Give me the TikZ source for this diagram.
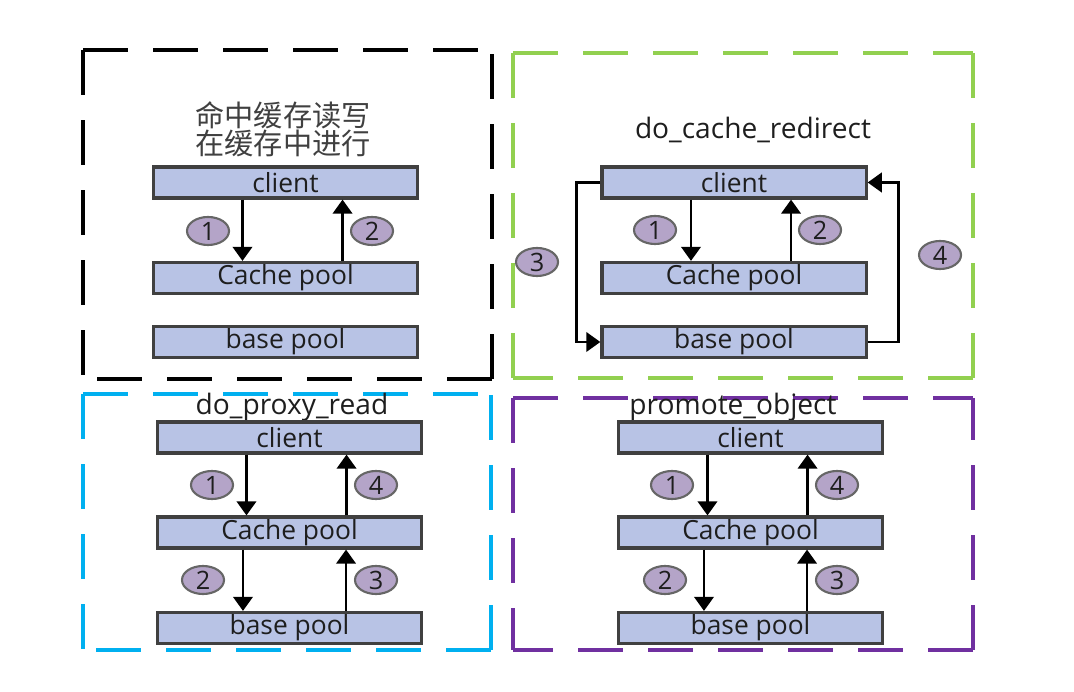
\documentclass[tikz,border=0pt]{standalone}
\usepackage{fontspec}
\setmainfont{Open Sans}
\newfontfamily\cjk{Noto Sans CJK SC}
\usetikzlibrary{arrows.meta}
\usetikzlibrary{shapes.geometric}
\usepackage{xcolor}
\definecolor{poolfill}{RGB}{184,195,229}
\definecolor{stepfill}{RGB}{180,164,200}
\definecolor{framegreen}{RGB}{146,208,80}
\definecolor{frameblue}{RGB}{0,176,240}
\definecolor{framepurple}{RGB}{112,48,160}
\definecolor{txt}{RGB}{30,30,30}

\begin{document}
\begin{tikzpicture}[x=.01cm, y=-.01cm,
  pool/.style={draw=black!75, line width=.9pt, fill=poolfill, minimum width=2.64cm, minimum height=.31cm, inner sep=0pt, font=\fontsize{7.5}{9}\selectfont, text=txt},
  num/.style={ellipse, draw=black!60, line width=.6pt, fill=stepfill, minimum width=.42cm, minimum height=.28cm, inner sep=0pt, font=\fontsize{7.2}{8}\selectfont, text=txt},
  panel/.style={line width=1.2pt, dash pattern=on .45cm off .25cm},
  arr/.style={black, line width=.8pt, ->, >={Triangle[length=4pt,width=5.5pt]}},
  heading/.style={font=\fontsize{8}{9}\selectfont, text=txt}]
\useasboundingbox (0,0) rectangle (1074,692);
\draw[panel] (83,50) -- (492,50) (83,50) -- (83,379) (492,379) -- (83,379) (492,379) -- (492,50);
\draw[panel, framegreen] (513,53) -- (973,53) (513,53) -- (513,378) (973,378) -- (513,378) (973,378) -- (973,53);
\draw[panel, frameblue] (83,394) -- (491,394) (83,394) -- (83,650) (491,650) -- (83,650) (491,650) -- (491,394);
\draw[panel, framepurple] (513,398) -- (973,398) (513,398) -- (513,650) (973,650) -- (513,650) (973,650) -- (973,398);
\node[heading, align=center, font=\fontsize{8.3}{8}\selectfont\cjk, text=black!75] (hda) at (283,129) {命中缓存读写\\在缓存中进行};
\node[heading] (hdb) at (753,130) {do\_cache\_redirect};
\node[heading] (hdc) at (292,407) {do\_proxy\_read};
\node[heading] (hdd) at (733,407) {promote\_object};
\foreach \n/\x/\ya/\yb/\yc in {a/285.5/182.5/278/342, b/734/182.5/278/342, c/289.5/437.5/532.5/628, d/750.5/437.5/532.5/628} {
  \node[pool] (cl\n) at (\x,\ya) {client};
  \node[pool] (ca\n) at (\x,\yb) {Cache pool};
  \node[pool] (ba\n) at (\x,\yc) {base pool};
  \draw[arr] ([xshift=-.43cm]cl\n.south) -- ([xshift=-.43cm]ca\n.north);
  \draw[arr] ([xshift=.57cm]ca\n.north) -- ([xshift=.57cm]cl\n.south);
}
\foreach \n in {c,d} {
  \draw[arr] ([xshift=-.465cm]ca\n.south) -- ([xshift=-.465cm]ba\n.north);
  \draw[arr] ([xshift=.565cm]ba\n.north) -- ([xshift=.565cm]ca\n.south);
}
\draw[arr] (clb.west) -- ++(-24,0) |- (bab.west);
\draw[arr] (bab.east) -- ++(31,0) |- (clb.east);
\foreach \n/\t/\x/\y in {a/1/208/231, a/2/372/231, b/1/655/230, b/2/820/230, b/3/537/262, b/4/940/255,
  c/1/212/485, c/4/376/485, c/2/203/580, c/3/376/580, d/1/672/485, d/4/837/485, d/2/665/580, d/3/837/580}
  \node[num] (s\n\t) at (\x,\y) {\t};
\end{tikzpicture}
\end{document}
